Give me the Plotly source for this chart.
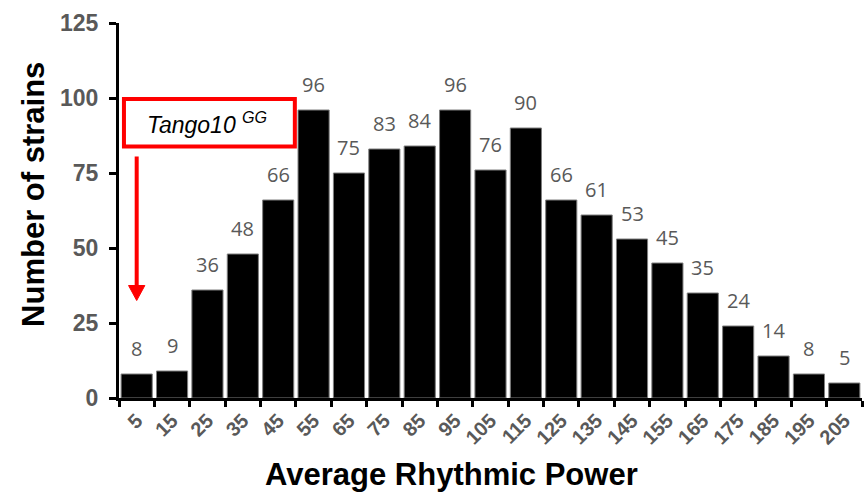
import plotly.graph_objects as go

# Histogram bins (average rhythmic power) and strain counts
bins = ["5", "15", "25", "35", "45", "55", "65", "75", "85", "95", "105",
        "115", "125", "135", "145", "155", "165", "175", "185", "195", "205"]
counts = [8, 9, 36, 48, 66, 96, 75, 83, 84, 96, 76,
          90, 66, 61, 53, 45, 35, 24, 14, 8, 5]
y_ticks = [0, 25, 50, 75, 100, 125]

x_title = "<b>Average Rhythmic Power</b>"
y_title = "<b>Number of strains</b>"

# Highlighted strain and its bin
callout_label = "<i>Tango10 <sup>GG</sup></i>"
callout_bin = 0

GRAY = "#595959"
RED = "#ff0000"

fig = go.Figure()
fig.add_trace(go.Bar(
    x=bins, y=counts,
    marker=dict(color="black", line=dict(color="#7f7f7f", width=1)),
    hoverinfo="x+y",
))

# Value labels above each bar (category index positions)
for i, c in enumerate(counts):
    fig.add_annotation(
        x=i, y=c, xref="x", yref="y", text=str(c), showarrow=False,
        yanchor="bottom", yshift=10,
        font=dict(family="Open Sans", size=20, color=GRAY),
    )

# Callout box
fig.add_shape(
    type="rect", xref="x", yref="y",
    x0=-0.36, x1=4.47, y0=83.8, y1=99.7,
    line=dict(color=RED, width=4), fillcolor="white", layer="above",
)
fig.add_annotation(
    x=2.0, y=91.8, xref="x", yref="y", text=callout_label, showarrow=False,
    font=dict(family="Liberation Sans", size=23, color="black"),
)

# Arrow pointing down at the highlighted bin: shaft plus filled head
tip_y, tail_y, head_len, head_half = 32.5, 80.5, 5.0, 0.23
fig.add_shape(
    type="line", xref="x", yref="y",
    x0=callout_bin, x1=callout_bin, y0=tail_y, y1=tip_y + head_len - 0.5,
    line=dict(color=RED, width=4),
)
fig.add_shape(
    type="path", xref="x", yref="y",
    path=(f"M {callout_bin - head_half},{tip_y + head_len} "
          f"L {callout_bin + head_half},{tip_y + head_len} "
          f"L {callout_bin},{tip_y} Z"),
    fillcolor=RED, line=dict(color=RED, width=1),
)

# Axis titles
fig.add_annotation(
    x=0.448, y=-0.205, xref="paper", yref="paper", text=x_title,
    showarrow=False, xanchor="center", yanchor="middle",
    font=dict(family="Liberation Sans", size=31, color="black"),
)
fig.add_annotation(
    x=-0.115, y=0.543, xref="paper", yref="paper", text=y_title,
    showarrow=False, xanchor="center", yanchor="middle", textangle=-90,
    font=dict(family="Liberation Sans", size=31, color="black"),
)

fig.update_layout(
    width=865, height=500,
    margin=dict(l=119, r=3, t=23, b=102),
    paper_bgcolor="white", plot_bgcolor="white",
    bargap=0.12, showlegend=False,
    xaxis=dict(
        type="category", tickson="boundaries",
        range=[-0.5, len(bins) - 0.5], autorange=False,
        showline=True, linecolor="black", linewidth=3,
        ticks="outside", ticklen=6, tickwidth=3, tickcolor="black",
        tickangle=-45,
        tickfont=dict(family="Liberation Sans", size=20, color=GRAY, weight="bold"),
        showgrid=False, zeroline=False,
    ),
    yaxis=dict(
        range=[0, 125], tickvals=y_ticks,
        showline=True, linecolor="black", linewidth=3,
        ticks="outside", ticklen=7, tickwidth=3, tickcolor="black",
        ticklabelstandoff=6,
        tickfont=dict(family="Liberation Sans", size=23, color=GRAY, weight="bold"),
        showgrid=False, zeroline=False,
    ),
)

fig.write_html("out.html")
